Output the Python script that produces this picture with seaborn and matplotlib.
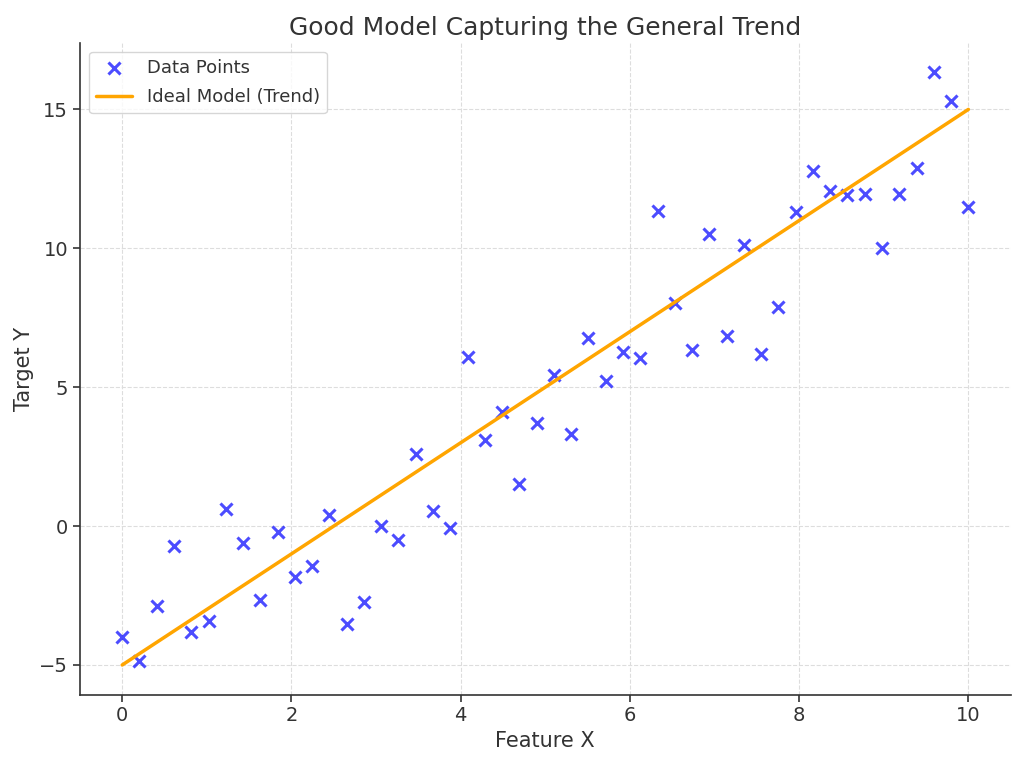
import numpy as np
import pandas as pd
import matplotlib
matplotlib.use("Agg")
import matplotlib.pyplot as plt
import seaborn as sns

x_values = np.linspace(0, 10, 50)
y_values = [-4.00, -4.87, -2.88, -0.73, -3.82, -3.42, 0.61, -0.61, -2.66, -0.23,
            -1.84, -1.45, 0.39, -3.52, -2.74, 0.00, -0.49, 2.59, 0.53, -0.08,
            6.09, 3.11, 4.12, 1.53, 3.71, 5.45, 3.33, 6.76, 5.23, 6.26,
            6.04, 11.35, 8.03, 6.35, 10.51, 6.83, 10.13, 6.19, 7.87, 11.32,
            12.79, 12.07, 11.92, 11.96, 10.00, 11.95, 12.88, 16.33, 15.30, 11.48]
trend_x = [0, 10]
trend_y = [-5, 15]

sns.set_style("white")
plt.rcParams['font.family'] = ['DejaVu Sans']
text_color = '#333333'
plt.rcParams['text.color'] = text_color
plt.rcParams['axes.labelcolor'] = text_color
plt.rcParams['xtick.color'] = text_color
plt.rcParams['ytick.color'] = text_color

df = pd.DataFrame({"x": x_values, "y": y_values})
tr = pd.DataFrame({"x": trend_x, "y": trend_y})

fig, ax = plt.subplots(figsize=(10.24, 7.65), dpi=100)
sns.scatterplot(data=df, x="x", y="y", marker="x", color="blue", alpha=0.7,
                s=75, linewidth=2.2, label="Data Points", ax=ax)
sns.lineplot(data=tr, x="x", y="y", color="orange", linewidth=2.5,
             label="Ideal Model (Trend)", ax=ax)

ax.set_title("Good Model Capturing the General Trend", fontsize=18, color=text_color)
ax.set_xlabel("Feature X", fontsize=15)
ax.set_ylabel("Target Y", fontsize=15)
ax.tick_params(axis='both', labelsize=14, length=5, width=1.2, left=True, bottom=True)
ax.grid(True, linestyle='--', color='#dddddd', linewidth=0.8)
ax.set_axisbelow(True)
for s in ['top', 'right']:
    ax.spines[s].set_visible(False)
for s in ['left', 'bottom']:
    ax.spines[s].set_color('#333333')
    ax.spines[s].set_linewidth(1.2)
ax.set_xticks([0, 2, 4, 6, 8, 10])
ax.set_yticks([-5, 0, 5, 10, 15])
leg = ax.legend(loc="upper left", fontsize=13, frameon=True, labelspacing=0.6)
plt.subplots_adjust(left=0.078, right=0.987, top=0.944, bottom=0.092)
fig.savefig("out.png", dpi=100)
